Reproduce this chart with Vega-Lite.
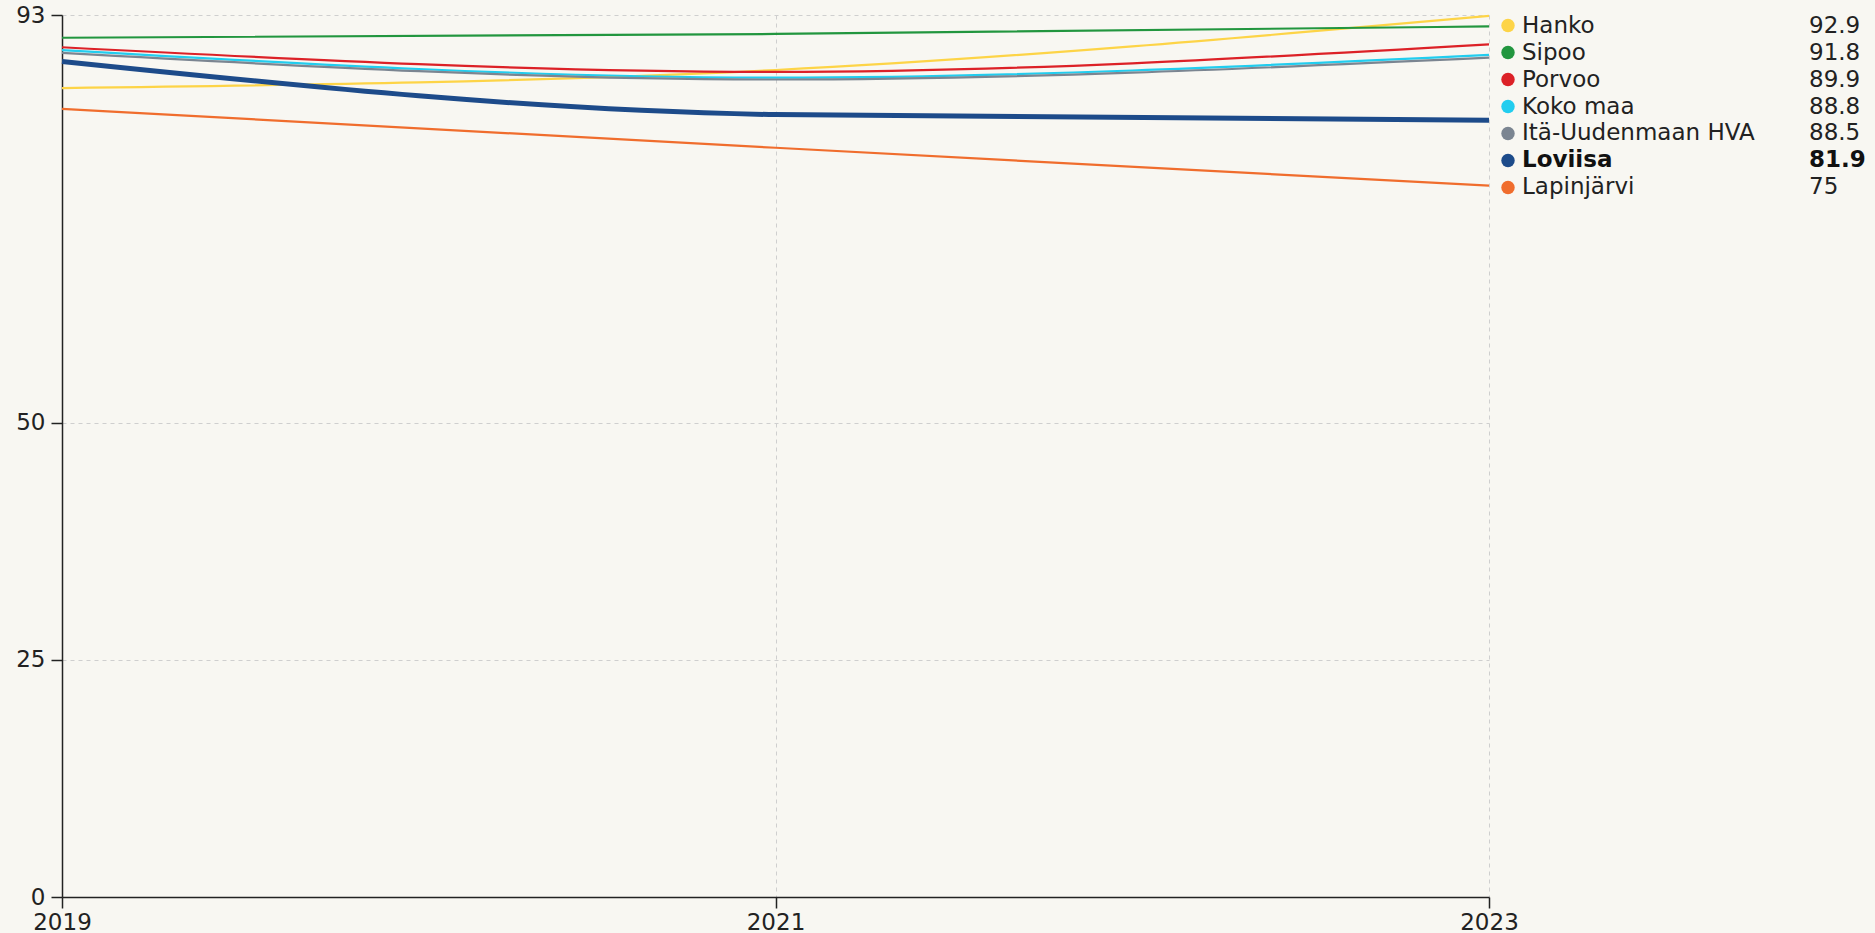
{
  "$schema": "https://vega.github.io/schema/vega-lite/v6.json",
  "background": "#f8f7f2",
  "padding": {"left": 15, "top": 4, "right": 10, "bottom": 0},
  "bounds": "flush",
  "spacing": 19,
  "config": {
    "font": "DejaVu Sans",
    "view": {"stroke": null},
    "axis": {"labelFont": "DejaVu Sans", "labelFontSize": 23, "labelColor": "#222", "domainColor": "#222", "tickColor": "#222", "tickSize": 11, "gridColor": "#cfcfcf", "gridDash": [4, 4], "gridWidth": 1, "title": null, "domainWidth": 1.5, "tickWidth": 1.5},
    "axisY": {"labelPadding": 6},
    "axisX": {"labelPadding": 3}
  },
  "datasets": {
    "series": [
      {"name": "Hanko", "year": 2019, "value": 85.3},
      {"name": "Hanko", "year": 2021, "value": 87.2},
      {"name": "Hanko", "year": 2023, "value": 92.9},
      {"name": "Sipoo", "year": 2019, "value": 90.6},
      {"name": "Sipoo", "year": 2021, "value": 91.0},
      {"name": "Sipoo", "year": 2023, "value": 91.8},
      {"name": "Porvoo", "year": 2019, "value": 89.6},
      {"name": "Porvoo", "year": 2021, "value": 87.0},
      {"name": "Porvoo", "year": 2023, "value": 89.9},
      {"name": "Koko maa", "year": 2019, "value": 89.3},
      {"name": "Koko maa", "year": 2021, "value": 86.4},
      {"name": "Koko maa", "year": 2023, "value": 88.8},
      {"name": "Itä-Uudenmaan HVA", "year": 2019, "value": 89.0},
      {"name": "Itä-Uudenmaan HVA", "year": 2021, "value": 86.2},
      {"name": "Itä-Uudenmaan HVA", "year": 2023, "value": 88.5},
      {"name": "Loviisa", "year": 2019, "value": 88.1},
      {"name": "Loviisa", "year": 2021, "value": 82.5},
      {"name": "Loviisa", "year": 2023, "value": 81.9},
      {"name": "Lapinjärvi", "year": 2019, "value": 83.1},
      {"name": "Lapinjärvi", "year": 2021, "value": 79.0},
      {"name": "Lapinjärvi", "year": 2023, "value": 75.0}
    ],
    "legend": [
      {"name": "Hanko", "label": "92.9"},
      {"name": "Sipoo", "label": "91.8"},
      {"name": "Porvoo", "label": "89.9"},
      {"name": "Koko maa", "label": "88.8"},
      {"name": "Itä-Uudenmaan HVA", "label": "88.5"},
      {"name": "Loviisa", "label": "81.9"},
      {"name": "Lapinjärvi", "label": "75"}
    ]
  },
  "hconcat": [
    {
      "width": 1427,
      "height": 882,
      "data": {"name": "series"},
      "encoding": {
        "x": {"field": "year", "type": "quantitative", "scale": {"domain": [2019, 2023], "nice": false, "zero": false},
              "axis": {"values": [2019, 2021, 2023], "format": "d", "labelAlign": "center", "labelFlush": false}},
        "y": {"field": "value", "type": "quantitative", "scale": {"domain": [0, 93], "nice": false},
              "axis": {"values": [0, 25, 50, 93]}},
        "color": {"field": "name", "type": "nominal", "legend": null,
                  "scale": {"domain": ["Hanko", "Sipoo", "Porvoo", "Koko maa", "Itä-Uudenmaan HVA", "Loviisa", "Lapinjärvi"],
                            "range": ["#fdd447", "#22963f", "#dc2127", "#22cdef", "#7b8591", "#1d4b8a", "#f06d2d"]}}
      },
      "layer": [
        {"transform": [{"filter": "datum.name !== 'Loviisa'"}], "mark": {"type": "line", "interpolate": "monotone", "strokeWidth": 2.2}},
        {"transform": [{"filter": "datum.name === 'Loviisa'"}], "mark": {"type": "line", "interpolate": "monotone", "strokeWidth": 5}}
      ]
    },
    {
      "width": 301,
      "height": 183,
      "data": {"name": "legend"},
      "encoding": {
        "y": {"field": "name", "type": "ordinal", "sort": null, "axis": null, "scale": {"type": "point", "padding": 0.39}}
      },
      "layer": [
        {"mark": {"type": "point", "filled": true, "size": 180, "opacity": 1},
         "encoding": {
           "x": {"datum": 0, "type": "quantitative", "scale": {"domain": [0, 1], "nice": false}, "axis": null},
           "color": {"field": "name", "type": "nominal", "legend": null,
                     "scale": {"domain": ["Hanko", "Sipoo", "Porvoo", "Koko maa", "Itä-Uudenmaan HVA", "Loviisa", "Lapinjärvi"],
                               "range": ["#fdd447", "#22963f", "#dc2127", "#22cdef", "#7b8591", "#1d4b8a", "#f06d2d"]}}
         }},
        {"transform": [{"filter": "datum.name !== 'Loviisa'"}],
         "mark": {"type": "text", "align": "left", "baseline": "middle", "dx": 14, "fontSize": 23, "color": "#222"},
         "encoding": {"x": {"datum": 0, "type": "quantitative"}, "text": {"field": "name"}}},
        {"transform": [{"filter": "datum.name === 'Loviisa'"}],
         "mark": {"type": "text", "align": "left", "baseline": "middle", "dx": 14, "fontSize": 23, "fontWeight": "bold", "color": "#111"},
         "encoding": {"x": {"datum": 0, "type": "quantitative"}, "text": {"field": "name"}}},
        {"transform": [{"filter": "datum.name !== 'Loviisa'"}],
         "mark": {"type": "text", "align": "left", "baseline": "middle", "fontSize": 23, "color": "#222"},
         "encoding": {"x": {"datum": 1, "type": "quantitative"}, "text": {"field": "label"}}},
        {"transform": [{"filter": "datum.name === 'Loviisa'"}],
         "mark": {"type": "text", "align": "left", "baseline": "middle", "fontSize": 23, "fontWeight": "bold", "color": "#111"},
         "encoding": {"x": {"datum": 1, "type": "quantitative"}, "text": {"field": "label"}}}
      ]
    }
  ]
}
